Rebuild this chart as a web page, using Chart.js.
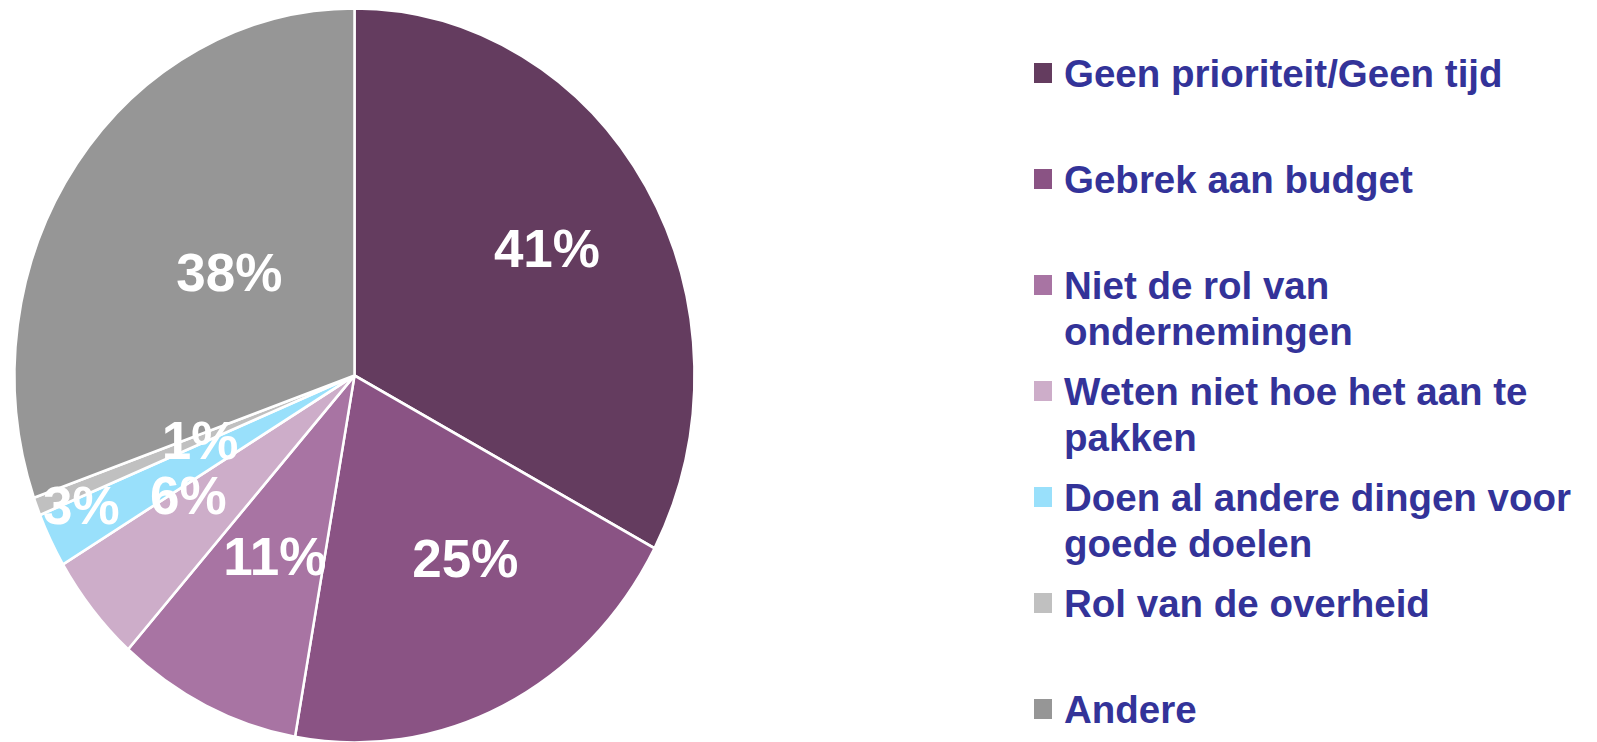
<!DOCTYPE html>
<html>
<head>
<meta charset="utf-8">
<script src="https://cdn.jsdelivr.net/npm/chart.js@4.4.0/dist/chart.umd.min.js"></script>
<style>
  html, body { margin: 0; padding: 0; background: #ffffff; overflow: hidden; width: 1597px; height: 742px; }
  #wrap { position: absolute; left: 0; top: 0; width: 709px; height: 751px; }
  #legend { position: absolute; left: 0; top: 0; margin: 0; padding: 0; list-style: none; }
  #legend li { position: absolute; left: 1034px; white-space: nowrap; }
  #legend .sw { position: absolute; left: 0; width: 18px; height: 20px; }
  #legend .tx { position: absolute; left: 30px; font-family: "Liberation Sans", Arial, sans-serif; font-weight: bold; font-size: 38.5px; line-height: 46px; color: #333399; }
</style>
</head>
<body>
<div id="wrap"><canvas id="c"></canvas></div>
<ul id="legend"></ul>
<script>
// ---- data ----
const categories = [
  ["Geen prioriteit/Geen tijd"],
  ["Gebrek aan budget"],
  ["Niet de rol van", "ondernemingen"],
  ["Weten niet hoe het aan te", "pakken"],
  ["Doen al andere dingen voor", "goede doelen"],
  ["Rol van de overheid"],
  ["Andere"]
];
const values = [41, 25, 11, 6, 3, 1, 38];
const valueLabels = ["41%", "25%", "11%", "6%", "3%", "1%", "38%"];
const colors = ["#643c5f", "#8a5384", "#a874a3", "#cdadc9", "#99e0fb", "#c0c0c0", "#969696"];

// label placement inside slices: radial fraction and angle shift (degrees)
const labelRadius = [0.66, 0.60, 0.55, 0.59, 0.88, 0.49, 0.46];
const labelShift  = [0, -7, -0.7, 5.5, 2.6, -1.1, 1.6];

const stretchY = 366 / 339;

const stretchPlugin = {
  id: 'stretch',
  beforeDatasetsDraw(chart) {
    const arc = chart.getDatasetMeta(0).data[0];
    const ctx = chart.ctx;
    ctx.save();
    ctx.translate(arc.x, arc.y);
    ctx.scale(1, stretchY);
    ctx.translate(-arc.x, -arc.y);
  },
  afterDatasetsDraw(chart) {
    chart.ctx.restore();
  }
};

const labelPlugin = {
  id: 'vlabels',
  afterDraw(chart) {
    const ctx = chart.ctx;
    const meta = chart.getDatasetMeta(0);
    ctx.save();
    ctx.fillStyle = '#ffffff';
    ctx.font = 'bold 53px "Liberation Sans", Arial, sans-serif';
    ctx.textAlign = 'center';
    ctx.textBaseline = 'middle';
    meta.data.forEach((a, i) => {
      const p = a.getProps(['x', 'y', 'startAngle', 'endAngle', 'outerRadius']);
      const ang = (p.startAngle + p.endAngle) / 2 + labelShift[i] * Math.PI / 180;
      const r = p.outerRadius * labelRadius[i];
      const x = p.x + Math.cos(ang) * r;
      const y = p.y + Math.sin(ang) * r * stretchY;
      ctx.fillText(valueLabels[i], x, y + 2);
    });
    ctx.restore();
  }
};

new Chart(document.getElementById('c'), {
  type: 'pie',
  data: {
    labels: categories,
    datasets: [{
      data: values,
      backgroundColor: colors,
      borderColor: '#ffffff',
      borderWidth: 2.5
    }]
  },
  options: {
    responsive: true,
    maintainAspectRatio: false,
    animation: false,
    events: [],
    radius: 340,
    layout: { padding: 0 },
    plugins: { legend: { display: false }, tooltip: { enabled: false } }
  },
  plugins: [stretchPlugin, labelPlugin]
});

// HTML legend built from the same arrays
const ul = document.getElementById('legend');
categories.forEach((lines, i) => {
  const li = document.createElement('li');
  const top = 50.7 + 106 * i;
  li.style.top = top + 'px';
  const sw = document.createElement('span');
  sw.className = 'sw';
  sw.style.top = '12.6px';
  sw.style.background = colors[i];
  const tx = document.createElement('span');
  tx.className = 'tx';
  tx.style.top = '0px';
  lines.forEach((l, j) => {
    if (j) tx.appendChild(document.createElement('br'));
    tx.appendChild(document.createTextNode(l));
  });
  li.appendChild(sw);
  li.appendChild(tx);
  ul.appendChild(li);
});
</script>
</body>
</html>
